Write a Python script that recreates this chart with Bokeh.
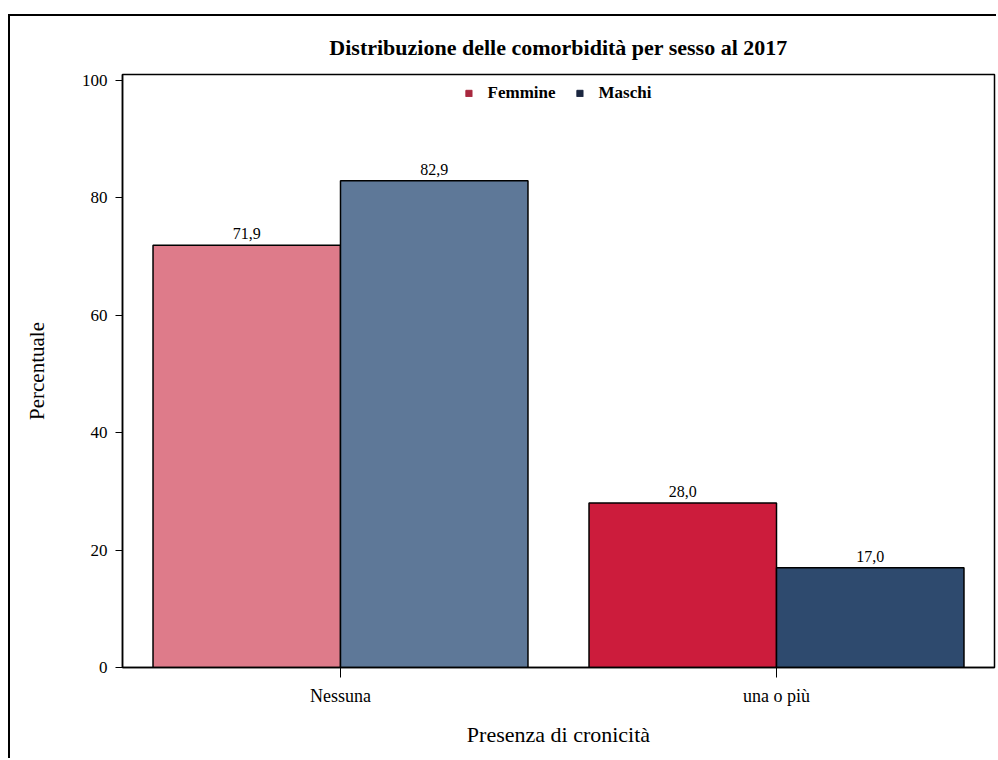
from bokeh.plotting import figure
from bokeh.models import ColumnDataSource, FactorRange, Range1d, FixedTicker, Legend, LegendItem
from bokeh.transform import dodge
from bokeh.embed import file_html
from bokeh.resources import INLINE

categories = ["Nessuna", "una o più"]
femmine = [71.9, 28.0]
maschi = [82.9, 17.0]
femmine_labels = ["71,9", "28,0"]
maschi_labels = ["82,9", "17,0"]
femmine_colors = ["#DE7B8A", "#CC1C3C"]
maschi_colors = ["#5E7898", "#2E4A6E"]
y_ticks = [0, 20, 40, 60, 80, 100]

FONT = "Liberation Serif"

p = figure(width=988, height=744, x_range=FactorRange(*categories), y_range=Range1d(0, 101),
           output_backend="svg", toolbar_location=None,
           min_border_left=112, min_border_right=4, min_border_top=58, min_border_bottom=93)
p.styles = {"border-left": "2px solid black", "border-top": "2px solid black",
            "margin-left": "8px", "margin-top": "14px"}

src_f = ColumnDataSource(dict(cat=categories, val=femmine, lab=femmine_labels, col=femmine_colors))
src_m = ColumnDataSource(dict(cat=categories, val=maschi, lab=maschi_labels, col=maschi_colors))

W = 0.43
p.vbar(x=dodge("cat", -W / 2, range=p.x_range), top="val", width=W, source=src_f,
       fill_color="col", line_color="black", line_width=1.5)
p.vbar(x=dodge("cat", W / 2, range=p.x_range), top="val", width=W, source=src_m,
       fill_color="col", line_color="black", line_width=1.5)

p.text(x=dodge("cat", -W / 2, range=p.x_range), y="val", text="lab", source=src_f,
       text_align="center", text_baseline="bottom", y_offset=-6,
       text_font=FONT, text_font_size="16px", text_color="black")
p.text(x=dodge("cat", W / 2, range=p.x_range), y="val", text="lab", source=src_m,
       text_align="center", text_baseline="bottom", y_offset=-6,
       text_font=FONT, text_font_size="16px", text_color="black")

# legend entries (bars lie below the visible range, only their legend glyph shows)
rf = p.vbar(x=["Nessuna"], top=[-50], bottom=[-60], width=0.1,
            fill_color="#A8283E", line_color="#A8283E")
rm = p.vbar(x=["Nessuna"], top=[-50], bottom=[-60], width=0.1,
            fill_color="#1B2740", line_color="#1B2740")
legend = Legend(items=[LegendItem(label="Femmine", renderers=[rf]),
                       LegendItem(label="Maschi", renderers=[rm])],
                orientation="horizontal", location="top_center",
                border_line_color=None, background_fill_alpha=0,
                glyph_width=8, glyph_height=8, label_text_font=FONT,
                label_text_font_size="17px", label_text_font_style="bold",
                label_text_color="black",
                spacing=20, padding=3, margin=9, label_standoff=15)
p.add_layout(legend, "center")

p.title.text = "Distribuzione delle comorbidità per sesso al 2017"
p.title.align = "center"
p.title.text_font = FONT
p.title.text_font_size = "22px"
p.title.text_font_style = "bold"
p.title.text_color = "black"
p.title.offset = 0
p.title.standoff = 30

p.xgrid.visible = False
p.ygrid.visible = False
p.outline_line_color = "black"
p.outline_line_width = 1.5

p.yaxis.ticker = FixedTicker(ticks=y_ticks)
p.yaxis.minor_tick_line_color = None
p.yaxis.major_tick_in = 0
p.yaxis.major_tick_out = 7
p.yaxis.axis_line_color = "black"
p.yaxis.axis_line_width = 1.5
p.yaxis.major_tick_line_color = "black"
p.yaxis.major_label_text_font = FONT
p.yaxis.major_label_text_font_size = "17px"
p.yaxis.major_label_text_color = "black"
p.yaxis.major_label_standoff = 8
p.yaxis.axis_label = "Percentuale"
p.yaxis.axis_label_text_font = FONT
p.yaxis.axis_label_text_font_size = "21px"
p.yaxis.axis_label_text_font_style = "normal"
p.yaxis.axis_label_text_color = "black"
p.yaxis.axis_label_standoff = 30

p.xaxis.major_tick_in = 0
p.xaxis.major_tick_out = 10
p.xaxis.axis_line_color = "black"
p.xaxis.axis_line_width = 1.5
p.xaxis.major_tick_line_color = "black"
p.xaxis.major_label_text_font = FONT
p.xaxis.major_label_text_font_size = "18px"
p.xaxis.major_label_text_color = "black"
p.xaxis.major_label_standoff = 8
p.xaxis.axis_label = "Presenza di cronicità"
p.xaxis.axis_label_text_font = FONT
p.xaxis.axis_label_text_font_size = "22px"
p.xaxis.axis_label_text_font_style = "normal"
p.xaxis.axis_label_text_color = "black"
p.xaxis.axis_label_standoff = 13

open("out.html", "w").write(file_html(p, INLINE))
